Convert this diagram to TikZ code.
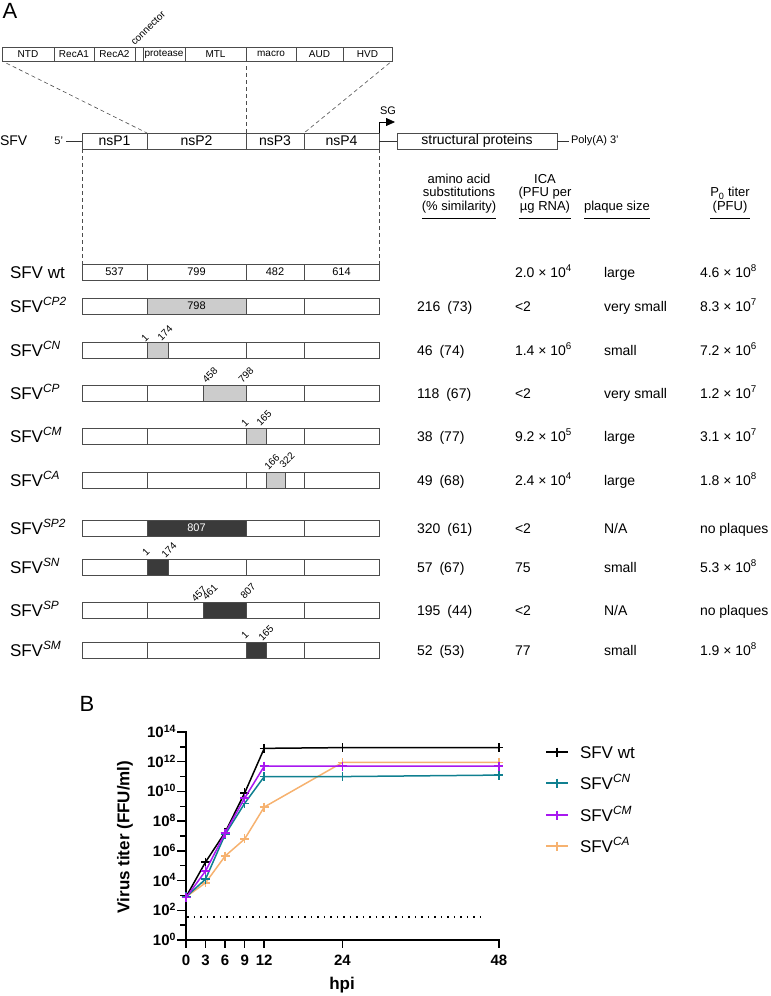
\documentclass[tikz,border=0pt]{standalone}
\usepackage{fontspec}
\setmainfont{Liberation Sans}
\usetikzlibrary{positioning, arrows.meta}
\definecolor{tealc}{RGB}{16,128,144}
\definecolor{purpc}{RGB}{168,24,240}
\definecolor{orngc}{RGB}{246,178,112}
\definecolor{litefill}{RGB}{204,204,204}
\definecolor{darkfill}{RGB}{58,58,58}
\newcommand\tenpow[1]{10\textsuperscript{#1}}

\begin{document}
\begin{tikzpicture}[
      x=1pt, y=-1pt,
      every node/.style={inner sep=0pt, outer sep=0pt},
      dom/.style={draw=black!70, line width=0.7pt, minimum height=14pt, font=\fontsize{10}{12}\selectfont},
      gen/.style={draw=black!70, line width=0.7pt, minimum height=16pt, font=\fontsize{14}{16}\selectfont},
      seg/.style={draw=black!70, line width=0.7pt, minimum height=16pt, font=\fontsize{11}{13}\selectfont},
      hilite/.style={seg, fill=litefill},
      dkfill/.style={seg, fill=darkfill, text=white},
      posn/.style={rotate=45, font=\fontsize{10}{12}\selectfont},
      rowlbl/.style={anchor=base west, font=\fontsize{17}{20}\selectfont},
      val/.style={anchor=base west, font=\fontsize{14}{16}\selectfont},
      hdr/.style={anchor=south, align=center, font=\fontsize{13}{13.5}\selectfont},
      dsh/.style={dash pattern=on 4pt off 3pt, black!70, line width=0.6pt},
      axis/.style={line width=1.5pt, line cap=rect},
      ticklbl/.style={font=\fontsize{15}{17}\selectfont\bfseries},
      curve/.style={line width=1.5pt, mark=+, mark size=4.5pt, mark options={line width=1.5pt}},
  ]
    \useasboundingbox (0,0) rectangle (771,996);

    % panel A: domains
    \node[font=\fontsize{22}{24}\selectfont] (pA) at (10,11) {A};
    \node[dom, minimum width=52pt] (ntd) at (28,54) {NTD};
    \node[dom, minimum width=40pt, right=0pt of ntd] (reca1) {RecA1};
    \node[dom, minimum width=41pt, right=0pt of reca1] (reca2) {RecA2};
    \node[dom, minimum width=8pt, right=0pt of reca2] (conn) {};
    \node[dom, minimum width=42pt, right=0pt of conn] (prot) {protease};
    \node[dom, minimum width=61pt, right=0pt of prot] (mtl) {MTL};
    \node[dom, minimum width=50pt, right=0pt of mtl] (macro) {macro};
    \node[dom, minimum width=47pt, right=0pt of macro] (aud) {AUD};
    \node[dom, minimum width=49pt, right=0pt of aud] (hvd) {HVD};
    \node[posn, anchor=south west] (connlbl) at (135,46) {connector};

    % genome
    \node[anchor=west, font=\fontsize{14}{16}\selectfont] (sfv) at (0,141) {SFV};
    \node[anchor=east, font=\fontsize{11}{13}\selectfont] (five) at (63,141) {5'};
    \node[gen, minimum width=65pt] (nsp1) at (114.5,141) {nsP1};
    \node[gen, minimum width=99pt, right=0pt of nsp1] (nsp2) {nsP2};
    \node[gen, minimum width=58pt, right=0pt of nsp2] (nsp3) {nsP3};
    \node[gen, minimum width=75pt, right=0pt of nsp3] (nsp4) {nsP4};
    \node[gen, minimum width=160pt] (struct) at (477,141) {structural proteins};
    \node[anchor=west, font=\fontsize{11}{13}\selectfont] (polya) at (571,141) {Poly(A) 3'};
    \node[font=\fontsize{11}{13}\selectfont] (sg) at (388,111) {SG};
    \coordinate (sgtip) at (395,122);
    \draw[black!80, line width=0.7pt, shorten <=3pt] (five.east) -- (nsp1.west);
    \draw[black!80, line width=0.7pt] (nsp4.east) -- (struct.west);
    \draw[black!80, line width=0.7pt, shorten >=2pt] (struct.east) -- (polya.west);
    \draw[line width=0.8pt, -{Triangle[length=9pt, width=8pt]}] (nsp4.north east) |- (sgtip);

    \draw[dsh, shorten <=5pt] (ntd.south west) -- (nsp2.north west);
    \draw[dsh, shorten <=5pt] (mtl.south east) -- (nsp3.north west);
    \draw[dsh, shorten <=3pt] (hvd.south east) -- (nsp4.north west);

    % constructs
    \foreach \r/\y/\t in {wt/272/{SFV wt}, cpii/306/{SFV\textsuperscript{\itshape CP2}},
        cn/350/{SFV\textsuperscript{\itshape CN}}, cp/393/{SFV\textsuperscript{\itshape CP}},
        cm/436/{SFV\textsuperscript{\itshape CM}}, ca/480/{SFV\textsuperscript{\itshape CA}},
        spii/528/{SFV\textsuperscript{\itshape SP2}}, sn/567/{SFV\textsuperscript{\itshape SN}},
        sp/610/{SFV\textsuperscript{\itshape SP}}, sm/650/{SFV\textsuperscript{\itshape SM}}} {
      \node[rowlbl] (lbl\r) at (10,\y+6) {\t};
      \node[seg, minimum width=65pt] (\r1) at (114.5,\y) {};
      \node[seg, minimum width=99pt, right=0pt of \r1] (\r2) {};
      \node[seg, minimum width=58pt, right=0pt of \r2] (\r3) {};
      \node[seg, minimum width=75pt, right=0pt of \r3] (\r4) {};
    }
    \draw[dsh] (nsp1.south west) -- (wt1.north west);
    \draw[dsh] (nsp4.south east) -- (wt4.north east);

    \node[font=\fontsize{11}{13}\selectfont] (len1) at (wt1) {537};
    \node[font=\fontsize{11}{13}\selectfont] (len2) at (wt2) {799};
    \node[font=\fontsize{11}{13}\selectfont] (len3) at (wt3) {482};
    \node[font=\fontsize{11}{13}\selectfont] (len4) at (wt4) {614};

    \node[hilite, minimum width=99pt] (blkcpii) at (cpii2) {798};
    \node[hilite, minimum width=21pt, anchor=west] (blkcn) at (cn2.west) {};
    \node[hilite, minimum width=43pt, anchor=east] (blkcp) at (cp2.east) {};
    \node[hilite, minimum width=20pt, anchor=west] (blkcm) at (cm3.west) {};
    \node[hilite, minimum width=19pt, anchor=west] (blkca) at ([xshift=20pt]ca3.west) {};
    \node[dkfill, minimum width=99pt] (blkspii) at (spii2) {807};
    \node[dkfill, minimum width=21pt, anchor=west] (blksn) at (sn2.west) {};
    \node[dkfill, minimum width=43pt, anchor=east] (blksp) at (sp2.east) {};
    \node[dkfill, minimum width=20pt, anchor=west] (blksm) at (sm3.west) {};

    \foreach \n/\x/\y/\t in {cna/145/338/1, cnb/165/333/174, cpa/210/375/458, cpb/246/375/798,
        cma/245/423/1, cmb/264/418/165, caa/272/462/166, cab/287/460/322,
        sna/146/552/1, snb/169/550/174, spa/199/594/457, spb/210/592/461, spc/248/591/807,
        sma/245/635/1, smb/266/633/165}
      \node[posn] (p\n) at (\x,\y) {\t};

    % table
    \node[hdr] (hamino) at (459,213) {amino acid\\substitutions\\(\% similarity)};
    \node[hdr] (hica) at (545,213) {ICA\\(PFU per\\µg RNA)};
    \node[hdr] (hplaque) at (617,213) {plaque size};
    \node[hdr] (htiter) at (730,213) {P\textsubscript{0} titer\\(PFU)};
    \foreach \h in {hamino, hica, hplaque, htiter}
      \draw[line width=0.7pt] ([yshift=-5pt]\h.south west) -- ([yshift=-5pt]\h.south east);

    \foreach \r/\y/\a/\b/\c/\d in {
        wt/272/{}/{2.0 × \tenpow{4}}/{large}/{4.6 × \tenpow{8}},
        cpii/306/{216\hspace{0.5em}(73)}/{<2}/{very small}/{8.3 × \tenpow{7}},
        cn/350/{46\hspace{0.5em}(74)}/{1.4 × \tenpow{6}}/{small}/{7.2 × \tenpow{6}},
        cp/393/{118\hspace{0.5em}(67)}/{<2}/{very small}/{1.2 × \tenpow{7}},
        cm/436/{38\hspace{0.5em}(77)}/{9.2 × \tenpow{5}}/{large}/{3.1 × \tenpow{7}},
        ca/480/{49\hspace{0.5em}(68)}/{2.4 × \tenpow{4}}/{large}/{1.8 × \tenpow{8}},
        spii/528/{320\hspace{0.5em}(61)}/{<2}/{N/A}/{no plaques},
        sn/567/{57\hspace{0.5em}(67)}/{75}/{small}/{5.3 × \tenpow{8}},
        sp/610/{195\hspace{0.5em}(44)}/{<2}/{N/A}/{no plaques},
        sm/650/{52\hspace{0.5em}(53)}/{77}/{small}/{1.9 × \tenpow{8}}} {
      \node[val] (aa\r) at (417,\y+5) {\a};
      \node[val] (ica\r) at (515,\y+5) {\b};
      \node[val] (pl\r) at (604,\y+5) {\c};
      \node[val] (ti\r) at (700,\y+5) {\d};
    }

    % panel B: growth curves
    \node[font=\fontsize{22}{24}\selectfont] (pB) at (87,704) {B};
    \begin{scope}[xshift=186pt, yshift=-940pt, x=6.52pt, y=14.857pt]
      \coordinate (org) at (0,0);
      \coordinate (xend) at (48,0);
      \coordinate (yend) at (0,14);
      \draw[axis] (yend) -- (org) -- (xend);
      \foreach \e in {0,2,...,14} {
        \draw[axis] (0,\e) -- ++(-8pt,0);
        \node[ticklbl, anchor=base east, xshift=-10pt, yshift=-5.5pt] (yt\e) at (0,\e) {10\textsuperscript{\e}};
      }
      \foreach \e in {1,3,...,13}
        \draw[axis] (0,\e) -- ++(-5pt,0);
      \foreach \h in {0,3,6,9,12,24,48} {
        \draw[axis] (\h,0) -- ++(0,-7pt);
        \node[ticklbl, anchor=north, yshift=-15pt] (xt\h) at (\h,0) {\h};
      }
      \coordinate (lodl) at (0.2,1.55);
      \coordinate (lodr) at (45.9,1.55);
      \draw[line width=1.5pt, dash pattern=on 1.5pt off 5pt] (lodl) -- (lodr);

      \draw[curve, black] plot coordinates {(0,2.9) (3,5.25) (6,7.25) (9,9.9) (12,12.9) (24,12.95) (48,12.95)};
      \draw[curve, orngc] plot coordinates {(0,2.9) (3,3.85) (6,5.65) (9,6.8) (12,8.95) (24,11.95) (48,11.95)};
      \draw[curve, tealc] plot coordinates {(0,2.9) (3,4.1) (6,7.1) (9,9.2) (12,11.0) (24,11.0) (48,11.1)};
      \draw[curve, purpc] plot coordinates {(0,2.85) (3,4.65) (6,7.2) (9,9.55) (12,11.7) (24,11.7) (48,11.7)};
    \end{scope}
    \node[rotate=90, font=\fontsize{17}{19}\selectfont\bfseries] (ylab) at (125,837) {Virus titer (FFU/ml)};
    \node[font=\fontsize{17}{19}\selectfont\bfseries] (xlab) at (342,985) {hpi};

    % legend
    \foreach \n/\c/\y/\t in {wt/black/752/{SFV wt}, cn/tealc/783/{SFV\textsuperscript{\itshape CN}},
        cm/purpc/815/{SFV\textsuperscript{\itshape CM}}, ca/orngc/846/{SFV\textsuperscript{\itshape CA}}} {
      \coordinate (lg\n a) at (546,\y);
      \coordinate (lg\n b) at (568,\y);
      \draw[\c, line width=1.5pt] (lg\n a) -- (lg\n b);
      \draw[curve, \c] plot coordinates {(557,\y)};
      \node[anchor=base west, font=\fontsize{17}{20}\selectfont] (lgt\n) at (580,\y+6) {\t};
    }
  \end{tikzpicture}
\end{document}
